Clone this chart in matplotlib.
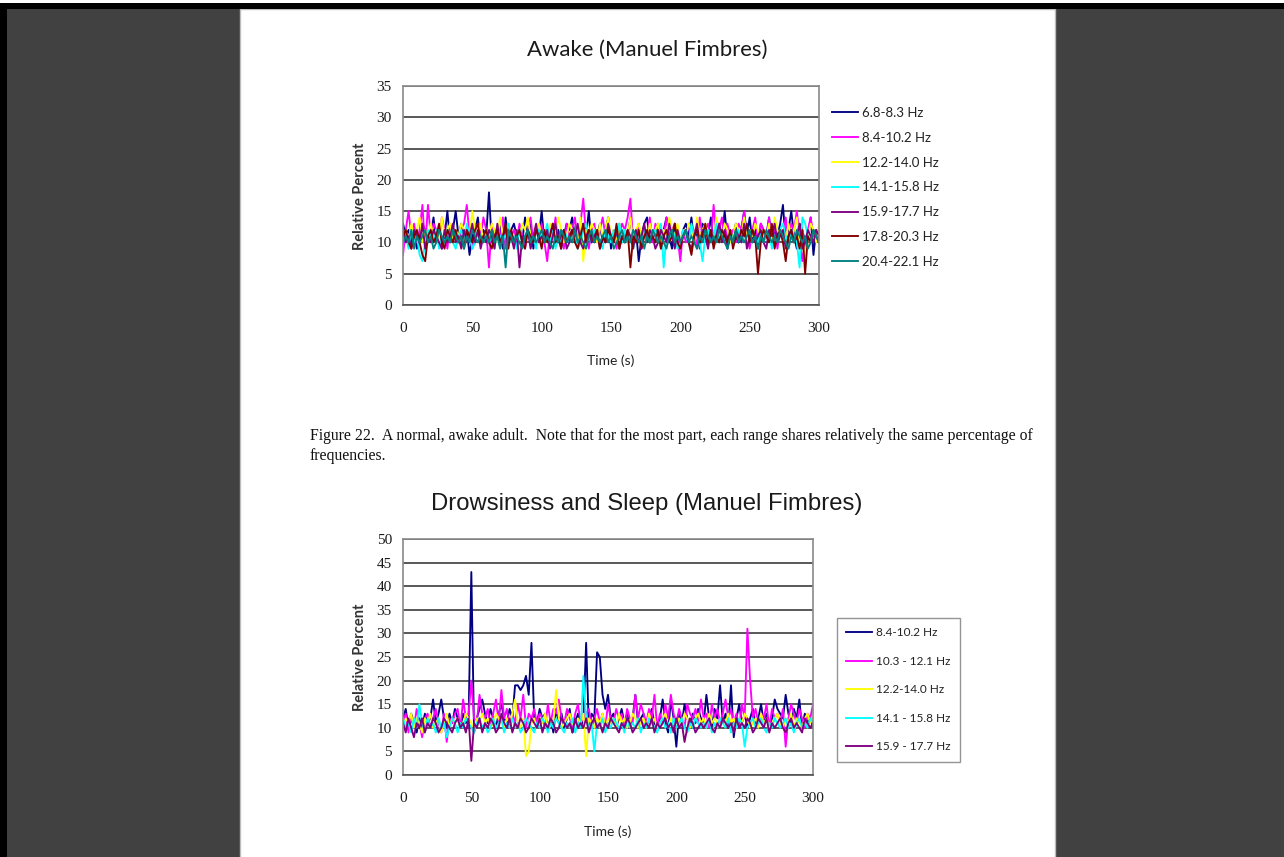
import numpy as np
import matplotlib
matplotlib.use('Agg')
import matplotlib.pyplot as plt
from matplotlib.patches import Rectangle

# ---------------- data ----------------
time_s = list(range(0, 301, 2))

awake_labels = ["6.8-8.3 Hz", "8.4-10.2 Hz", "12.2-14.0 Hz", "14.1-15.8 Hz",
                "15.9-17.7 Hz", "17.8-20.3 Hz", "20.4-22.1 Hz"]
awake_colors = ["#000080", "#FF00FF", "#FFFF00", "#00FFFF", "#800080", "#800000", "#008080"]

awake_band1 = [13,11,12,10,12,9,11,13,12,10, 11,14,10,12,9,11,15,10,12,15,
               11,13,10,12,8,11,12,14,10,12, 11,18,10,12,11,13,9,14,10,12,
               13,11,12,10,14,11,13,9,12,11, 15,10,12,11,13,10,12,9,11,13,
               12,14,11,10,12,13,11,15,10,12, 11,13,10,12,14,9,12,11,13,10,
               12,11,14,10,12,7,11,13,14,10, 12,11,13,10,12,14,11,9,13,12,
               10,12,13,11,14,10,12,9,13,12, 11,14,10,12,13,11,15,10,12,11,
               13,10,12,15,11,14,10,12,9,13, 12,11,14,10,12,11,13,16,10,12,
               15,11,9,13,12,10,11,14,8,12, 11]
awake_band2 = [8,12,15,11,13,10,12,16,9,16, 11,13,12,10,14,12,9,13,11,12,
               10,12,13,16,11,9,12,13,11,14, 12,6,13,11,12,10,14,9,13,11,
               12,10,13,11,9,12,14,10,12,11, 13,10,7,12,11,14,10,12,9,13,
               11,12,14,10,13,17,11,9,12,13, 10,12,14,11,13,10,12,9,11,13,
               12,14,17,10,11,13,9,12,11,14, 10,13,12,9,11,14,10,12,13,11,
               7,12,10,13,11,12,9,14,11,12, 13,10,16,11,12,14,10,13,11,12,
               10,13,12,15,11,9,12,14,10,13, 12,11,14,10,13,9,12,11,14,10,
               13,12,15,11,7,10,12,14,11,12, 10]
awake_band3 = [11,12,10,13,11,12,14,10,12,11, 13,11,12,10,14,11,12,13,10,12,
               11,13,12,10,11,15,12,11,13,10, 12,11,13,12,10,14,11,12,13,11,
               10,12,11,13,12,14,11,10,12,13, 11,12,10,13,12,11,14,12,10,11,
               13,12,11,10,14,7,12,11,13,12, 10,13,11,12,14,11,12,10,13,11,
               12,11,14,10,12,13,11,12,10,13, 11,12,13,10,12,11,14,12,11,13,
               10,12,11,13,12,10,14,11,12,13, 11,12,10,14,12,11,13,12,10,11,
               13,12,11,14,10,12,11,13,12,10, 12,11,13,10,14,12,11,12,10,13,
               11,12,14,10,12,6,11,13,12,10, 13]
awake_band4 = [10,11,9,12,10,11,8,7,10,12, 11,10,12,9,11,10,12,11,10,9,
               11,12,10,13,11,9,10,12,11,10, 12,10,11,9,12,11,10,12,13,10,
               11,9,12,10,11,12,10,11,9,12, 10,11,13,10,12,9,11,10,12,11,
               10,12,11,9,10,12,13,11,10,12, 11,10,9,12,11,10,12,11,13,10,
               12,10,11,9,11,12,10,12,11,10, 11,12,10,13,6,11,10,12,11,9,
               10,12,11,10,13,11,12,10,7,11, 12,10,11,13,10,12,11,9,12,10,
               11,12,10,11,13,10,12,11,10,12, 10,11,12,9,11,10,12,13,11,10,
               12,11,10,6,14,13,11,10,12,11, 10]
awake_band5 = [12,10,11,9,12,11,10,13,9,11, 10,12,11,10,9,12,10,11,13,10,
               11,9,12,10,11,13,10,12,9,11, 10,12,11,9,13,10,11,12,10,11,
               9,12,6,11,10,12,9,11,13,10, 11,10,12,9,11,13,10,11,12,9,
               10,12,11,13,10,9,11,12,10,11, 12,9,11,10,13,11,10,12,9,11,
               10,12,11,9,12,10,11,13,10,12, 11,9,10,12,11,10,13,11,9,12,
               10,11,12,10,9,11,13,10,12,11, 9,12,10,11,13,10,12,9,11,10,
               12,11,10,13,9,11,12,10,11,12, 10,9,12,11,13,10,11,12,9,11,
               12,10,11,13,9,10,12,11,10,12, 11]
awake_band6 = [11,12,10,9,11,12,10,8,7,11, 12,10,11,13,10,9,12,11,10,12,
               10,11,9,12,11,10,12,13,10,11, 12,10,9,11,12,10,11,13,9,12,
               10,11,12,10,9,12,11,10,12,11, 9,12,10,11,13,10,11,9,12,10,
               11,12,10,9,11,13,10,12,11,10, 12,9,11,10,12,11,10,13,9,11,
               10,12,6,11,10,12,9,11,12,10, 11,10,12,9,11,12,10,11,13,10,
               9,11,12,10,8,11,12,10,11,13, 10,12,9,11,10,12,11,10,12,9,
               11,10,12,11,13,10,12,11,5,10, 12,11,10,13,9,11,12,10,7,11,
               12,10,11,9,12,5,11,10,12,11, 10]
awake_band7 = [10,11,10,12,9,11,10,11,12,10, 11,9,10,12,11,10,11,10,12,11,
               10,11,9,11,10,12,11,10,11,10, 11,10,12,10,11,9,11,6,12,11,
               10,11,10,9,11,12,10,11,10,11, 12,10,11,10,9,11,10,12,11,10,
               11,10,12,10,11,10,9,11,12,10, 11,10,11,12,10,11,9,10,11,12,
               10,11,10,12,11,10,11,9,11,10, 12,11,10,11,10,9,11,12,10,11,
               10,11,12,10,11,10,9,11,10,12, 11,10,11,10,12,11,10,9,11,10,
               12,10,11,10,11,12,10,11,9,11, 10,12,11,10,11,10,12,11,10,9,
               11,10,12,11,10,11,9,10,12,11, 10]

sleep_labels = ["8.4-10.2 Hz", "10.3 - 12.1 Hz", "12.2-14.0 Hz", "14.1 - 15.8 Hz", "15.9 - 17.7 Hz"]
sleep_colors = ["#000080", "#FF00FF", "#FFFF00", "#00FFFF", "#800080"]

sleep_band1 = [12,14,10,13,11,9,12,10,13,11, 12,16,11,13,16,12,10,13,11,14,
               12,10,13,11,12,43,9,12,14,16, 13,11,14,12,10,13,15,12,11,14,
               12,19,19,18,19,21,17,28,12,11, 14,12,13,10,12,9,14,11,13,10,
               12,14,9,11,13,10,12,28,10,13, 12,26,25,17,14,17,12,13,10,12,
               14,11,13,10,12,17,11,12,13,10, 12,14,11,10,12,16,11,9,16,12,
               6,13,11,15,12,10,13,11,14,12, 11,17,12,10,14,12,19,11,13,10,
               19,8,12,15,11,13,10,12,14,11, 12,15,11,13,10,12,16,14,13,12,
               17,13,11,14,12,16,10,13,11,12, 10]
sleep_band2 = [11,13,9,12,10,14,11,8,12,13, 10,12,14,11,9,13,7,12,11,13,
               14,10,16,12,13,20,12,11,17,13, 12,14,10,13,16,11,18,12,14,10,
               13,11,15,12,17,10,13,12,14,11, 13,12,10,15,11,14,13,16,12,11,
               14,12,10,13,15,11,12,13,14,10, 12,14,11,13,10,15,12,11,14,12,
               13,10,14,12,11,17,12,15,13,11, 14,12,17,10,13,11,15,12,17,13,
               11,14,12,10,15,13,12,14,11,16, 12,13,10,15,12,14,11,13,16,12,
               14,11,13,10,15,12,31,20,12,14, 11,13,12,15,10,14,12,13,11,14,
               6,12,15,13,11,14,12,10,13,12, 15]
sleep_band3 = [10,12,11,13,10,12,11,9,12,11, 13,10,11,12,9,11,13,10,12,11,
               12,10,11,13,12,11,10,12,11,13, 11,12,10,11,13,12,11,10,12,11,
               13,16,11,10,12,4,5,11,12,10, 12,11,13,10,12,11,18,12,10,11,
               12,13,11,10,12,11,13,4,12,11, 10,12,11,13,10,12,11,12,10,13,
               11,12,10,11,13,12,10,11,12,10, 13,11,12,10,11,12,13,10,12,11,
               10,12,11,13,12,10,11,12,13,11, 12,10,13,11,12,11,10,12,11,13,
               11,12,10,12,11,13,12,10,11,12, 10,13,11,12,10,11,12,13,11,10,
               12,11,13,10,12,11,10,12,13,11, 12]
sleep_band4 = [12,10,11,9,12,10,15,11,9,12, 10,11,9,12,10,11,8,10,12,11,
               9,11,10,12,11,10,9,11,12,10, 11,9,10,12,10,11,12,9,11,10,
               12,10,11,9,10,12,11,10,9,11, 10,12,11,9,11,10,12,11,10,9,
               11,10,12,9,11,10,21,12,10,11, 5,11,10,12,9,11,10,12,11,10,
               11,9,12,10,11,10,12,9,11,10, 12,11,10,9,11,12,10,11,9,12,
               10,11,12,10,9,11,10,12,11,10, 11,10,12,9,11,10,12,11,10,12,
               9,11,10,12,11,6,10,11,12,10, 11,12,10,9,11,10,12,11,10,11,
               12,10,11,9,11,12,10,11,10,12, 11]
sleep_band5 = [11,9,12,10,8,11,10,12,9,11, 10,12,11,9,10,12,11,10,9,11,
               12,10,11,9,12,3,11,10,12,9, 11,10,12,11,9,10,13,11,10,12,
               9,11,10,12,11,9,10,12,11,10, 12,9,11,10,12,11,9,10,12,11,
               10,11,9,12,10,11,10,12,9,11, 12,10,11,9,11,10,12,11,10,9,
               11,10,12,11,9,10,11,12,10,11, 10,12,9,11,10,11,12,10,11,9,
               12,10,11,7,10,12,11,9,10,11, 10,11,12,10,9,11,10,12,11,10,
               11,9,12,10,11,10,12,11,9,10, 12,11,10,12,9,11,10,11,12,10,
               9,11,12,10,11,10,9,12,11,10, 11]

y_ticks_awake = [0, 5, 10, 15, 20, 25, 30, 35]
y_ticks_sleep = [0, 5, 10, 15, 20, 25, 30, 35, 40, 45, 50]
x_ticks = [0, 50, 100, 150, 200, 250, 300]

title_awake = "Awake (Manuel Fimbres)"
title_sleep = "Drowsiness and Sleep (Manuel Fimbres)"
caption_1 = "Figure 22.  A normal, awake adult.  Note that for the most part, each range shares relatively the same percentage of"
caption_2 = "frequencies."

# ---------------- layout ----------------
W, H = 1284, 857
fig = plt.figure(figsize=(W / 100, H / 100), dpi=100, facecolor='#414141')
renderer = fig.canvas.get_renderer()

def rect(x0, y0, x1, y1):
    return [x0 / W, 1 - y1 / H, (x1 - x0) / W, (y1 - y0) / H]

def fit(t, width):
    bb = t.get_window_extent(renderer)
    t.set_fontsize(t.get_fontsize() * width / bb.width)

bg = fig.add_axes([0, 0, 1, 1], zorder=0)
bg.set_xlim(0, W)
bg.set_ylim(H, 0)
bg.axis('off')
bg.add_patch(Rectangle((240, 9), 815, H, facecolor='white', edgecolor='#bdbdbd', lw=1))
bg.add_patch(Rectangle((0, 0), W, 3, facecolor='white', edgecolor='none'))
bg.add_patch(Rectangle((0, 3), W, 6, facecolor='black', edgecolor='none'))
bg.add_patch(Rectangle((0, 3), 7, H, facecolor='black', edgecolor='none'))

serif = 'Liberation Serif'
sans = 'Lato'

def style_axes(ax, yticks, ymax):
    ax.set_xlim(0, 300)
    ax.set_ylim(0, ymax)
    ax.set_yticks(yticks)
    ax.set_xticks(x_ticks)
    ax.grid(axis='y', color='#3c3c3c', lw=1.2)
    ax.set_axisbelow(True)
    for s in ax.spines.values():
        s.set_color('#8a8a8a')
        s.set_linewidth(1.2)
    ax.spines['bottom'].set_color('#555555')
    ax.tick_params(length=0)
    for lab in ax.get_xticklabels() + ax.get_yticklabels():
        lab.set_fontfamily(serif)
        lab.set_fontsize(11)
        lab.set_color('#1a1a1a')

# chart 1
ax1 = fig.add_axes(rect(403, 86, 819, 305))
awake = [awake_band1, awake_band2, awake_band3, awake_band4, awake_band5, awake_band6, awake_band7]
for vals, lab, col in zip(awake, awake_labels, awake_colors):
    ax1.plot(time_s, vals, color=col, lw=1.35, label=lab)
style_axes(ax1, y_ticks_awake, 35)
ax1.tick_params(axis='x', pad=12.5)
ax1.tick_params(axis='y', pad=8)
leg1 = ax1.legend(loc='upper left', bbox_to_anchor=(832 / W, 1 - 107 / H), bbox_transform=fig.transFigure,
                  frameon=False, borderpad=0, borderaxespad=0, handlelength=2.0, handletextpad=0.25,
                  labelspacing=0.97, prop={'family': sans, 'size': 9.5})
for t in leg1.get_texts():
    t.set_color('#222222')

# chart 2
ax2 = fig.add_axes(rect(403, 539, 813, 775))
sleep = [sleep_band1, sleep_band2, sleep_band3, sleep_band4, sleep_band5]
for vals, lab, col in zip(sleep, sleep_labels, sleep_colors):
    ax2.plot(time_s, vals, color=col, lw=1.35, label=lab)
style_axes(ax2, y_ticks_sleep, 50)
ax2.tick_params(axis='x', pad=12)
ax2.tick_params(axis='y', pad=8)
leg2 = ax2.legend(loc='upper left', bbox_to_anchor=(837 / W, 1 - 618 / H), bbox_transform=fig.transFigure,
                  frameon=True, fancybox=False, borderpad=0.8, borderaxespad=0, handlelength=2.2,
                  handletextpad=0.3, labelspacing=1.48, prop={'family': sans, 'size': 8.5})
leg2.get_frame().set_edgecolor('#7a7a7a')
leg2.get_frame().set_linewidth(1.0)
for t in leg2.get_texts():
    t.set_color('#222222')

# texts
t1 = bg.text(647, 50, title_awake, ha='center', va='center', fontsize=15, family=sans, color='#1a1a1a')
fit(t1, 241)
t2 = bg.text(647, 504, title_sleep, ha='center', va='center', fontsize=18, family='Liberation Sans', color='#1a1a1a')
fit(t2, 431)
for yc in (196, 657):
    bg.text(360, yc, "Relative Percent", rotation=90, ha='center', va='center', fontsize=10.5,
            family=sans, fontweight='bold', color='#333333')
bg.text(611, 361, "Time (s)", ha='center', va='center', fontsize=10, family=sans, color='#222222')
bg.text(608, 832, "Time (s)", ha='center', va='center', fontsize=10, family=sans, color='#222222')
c1 = bg.text(310, 436, caption_1, ha='left', va='center', fontsize=10, family=serif, color='#111111')
fit(c1, 727)
bg.text(310, 456, caption_2, ha='left', va='center', fontsize=c1.get_fontsize(), family=serif, color='#111111')

fig.savefig('out.png', dpi=100, facecolor=fig.get_facecolor())
